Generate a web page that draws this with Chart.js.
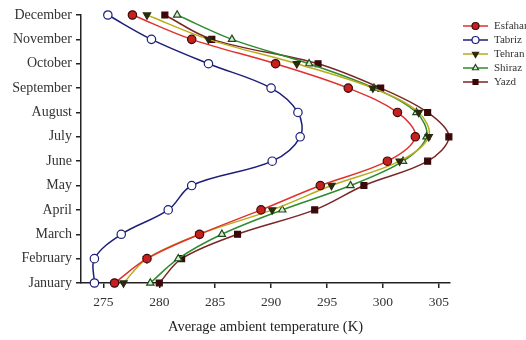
<!DOCTYPE html>
<html>
<head>
<meta charset="utf-8">
<script src="https://cdn.jsdelivr.net/npm/chart.js@4.4.1/dist/chart.umd.min.js"></script>
<style>
  html, body { margin: 0; padding: 0; background: #fff; }
  #wrap { width: 526px; height: 340px; }
</style>
</head>
<body>
<div id="wrap"><canvas id="chart" width="526" height="340"></canvas></div>
<script>
// Monthly average ambient temperature (K) per city
const months = ['January', 'February', 'March', 'April', 'May', 'June',
  'July', 'August', 'September', 'October', 'November', 'December'];

const esfahan = [276.0, 278.9, 283.6, 289.1, 294.4, 300.4, 302.9, 301.3, 296.9, 290.4, 282.9, 277.6];
const tabriz  = [274.2, 274.2, 276.6, 280.8, 282.9, 290.1, 292.6, 292.4, 290.0, 284.4, 279.3, 275.4];
const tehran  = [276.8, 278.9, 283.6, 290.1, 295.4, 301.5, 304.1, 303.2, 299.1, 292.3, 284.4, 278.9];
const shiraz  = [279.2, 281.7, 285.6, 291.0, 297.1, 301.8, 303.9, 303.0, 299.2, 293.4, 286.5, 281.6];
const yazd    = [280.0, 282.0, 287.0, 293.9, 298.3, 304.0, 305.9, 304.0, 299.8, 294.2, 284.7, 280.5];

const xTicks = [275, 280, 285, 290, 295, 300, 305];

const serif = "'Liberation Serif', 'DejaVu Serif', serif";

function series(label, values, line, fill, edge, style, rotation) {
  return {
    label: label,
    data: values,
    borderColor: line,
    backgroundColor: fill,
    pointBackgroundColor: fill,
    pointBorderColor: edge,
    pointBorderWidth: 1.2,
    pointStyle: style,
    pointRotation: rotation || 0,
    pointRadius: 4.2,
    borderWidth: 1.5,
    tension: 0.35,
    fill: false,
    clip: false,
  };
}

const datasets = [
  series('Esfahan', esfahan, '#e0312e', '#c8201e', '#3a0a0a', 'circle'),
  series('Tabriz', tabriz, '#1c1f7a', '#ffffff', '#1c1f7a', 'circle'),
  series('Tehran', tehran, '#b8ac1a', '#2a2a10', '#2a2a10', 'triangle', 180),
  series('Shiraz', shiraz, '#2e8b2e', '#d8ecd0', '#1e4a1e', 'triangle'),
  series('Yazd', yazd, '#7a2626', '#3a0808', '#3a0808', 'rect'),
];

// legend with a short line and the marker on it
const lineLegend = {
  id: 'lineLegend',
  afterDraw(chart) {
    const ctx = chart.ctx;
    ctx.save();
    chart.data.datasets.forEach(function (ds, i) {
      const y = 26 + i * 14;
      ctx.strokeStyle = ds.borderColor;
      ctx.lineWidth = 1.5;
      ctx.beginPath();
      ctx.moveTo(463, y);
      ctx.lineTo(488, y);
      ctx.stroke();
      ctx.fillStyle = ds.pointBackgroundColor;
      ctx.strokeStyle = ds.pointBorderColor;
      ctx.lineWidth = 1.2;
      Chart.helpers.drawPoint(ctx, {
        pointStyle: ds.pointStyle,
        rotation: ds.pointRotation,
        radius: 3.5,
        borderWidth: 1.2,
      }, 475.5, y);
      ctx.fillStyle = '#333';
      ctx.font = '11px ' + serif;
      ctx.textBaseline = 'middle';
      ctx.textAlign = 'left';
      ctx.fillText(ds.label, 494, y);
    });
    ctx.restore();
  },
};

new Chart(document.getElementById('chart').getContext('2d'), {
  type: 'line',
  data: { labels: months, datasets: datasets },
  options: {
    indexAxis: 'y',
    responsive: false,
    animation: false,
    layout: { padding: { top: 15, right: 76, left: 0, bottom: 0 } },
    plugins: {
      legend: { display: false },
      tooltip: { enabled: false },
    },
    scales: {
      x: {
        type: 'linear',
        min: 273,
        max: 306,
        afterBuildTicks: function (scale) {
          scale.ticks = xTicks.map(function (v) { return { value: v }; });
        },
        afterFit: function (scale) { scale.height = 57; },
        grid: { drawOnChartArea: false, drawTicks: true, tickLength: 5, color: '#222', lineWidth: 1.5 },
        border: { color: '#222', width: 1.5 },
        ticks: { color: '#333', font: { family: serif, size: 13.5 }, padding: 6 },
        title: {
          display: true,
          text: 'Average ambient temperature (K)',
          color: '#222',
          font: { family: serif, size: 14.5 },
          padding: { top: 9 },
        },
      },
      y: {
        type: 'category',
        reverse: true,
        offset: false,
        afterFit: function (scale) { scale.width = 81; },
        grid: { drawOnChartArea: false, drawTicks: true, tickLength: 5, color: '#222', lineWidth: 1.5 },
        border: { color: '#222', width: 1.5 },
        ticks: { color: '#333', font: { family: serif, size: 14 }, padding: 4, autoSkip: false },
      },
    },
  },
  plugins: [lineLegend],
});
</script>
</body>
</html>
